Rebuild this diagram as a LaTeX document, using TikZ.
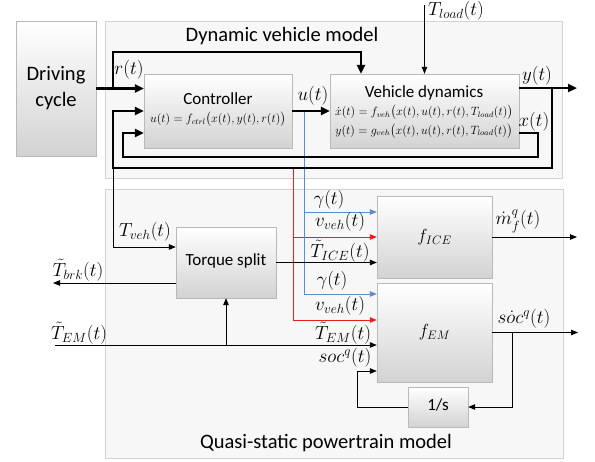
\RequirePackage{fix-cm}
\documentclass[tikz,border=0pt]{standalone}
\usepackage{fontspec}
\setmainfont{Carlito}
\usepackage{amsmath, amssymb}
\usetikzlibrary{arrows.meta}
\usetikzlibrary{calc}

\definecolor{sigblue}{RGB}{91,140,208}
\definecolor{sigred}{RGB}{235,30,30}

\newcommand{\bigtxt}{\fontsize{20.5}{24}\selectfont}
\newcommand{\midtxt}{\fontsize{17}{20}\selectfont}
\newcommand{\lbltxt}{\fontsize{19}{22}\selectfont}
\newcommand{\fntxt}{\fontsize{17.5}{20}\selectfont}
\newcommand{\eqtxt}{\fontsize{12}{14}\selectfont}

\begin{document}
\begin{tikzpicture}[x=1pt, y=-1pt,
        frame_style/.style={draw=gray!35, fill=gray!6, line width=0.8pt},
        block_style/.style={draw=gray!55, top color=white, bottom color=gray!35, inner sep=0pt, align=center},
        text_style/.style={inner sep=0pt},
        label_style/.style={inner sep=0pt, font=\lbltxt},
        bus_style/.style={draw=black, line width=2.6pt},
        bus_edge_style/.style={bus_style, -{Triangle[length=9pt,width=8pt]}},
        edge_style/.style={draw=black, line width=0.8pt, -{Triangle[length=7pt,width=5.5pt]}},
        blue_edge_style/.style={edge_style, draw=sigblue},
        red_edge_style/.style={edge_style, draw=sigred}]

        \useasboundingbox (0,0) rectangle (595,461);

        % outer frames
        \draw [frame_style] (105,21) rectangle (562,178);
        \draw [frame_style] (105,189) rectangle (563,458);
        \node [font=\bigtxt] (t_dyn) at (282,36) {Dynamic vehicle model};
        \node [font=\bigtxt] (t_qs) at (326,443) {Quasi-static powertrain model};

        % blocks
        \node [block_style, minimum width=80pt, minimum height=135pt, font=\bigtxt] (cycle) at (56,88.5) {Driving\\[2pt]cycle};
        \node [block_style, minimum width=148pt, minimum height=74pt] (ctrl) at (218,111) {};
        \node [block_style, minimum width=189pt, minimum height=74pt] (veh) at (424.5,111) {};
        \node [block_style, minimum width=100pt, minimum height=71pt, font=\midtxt] (split) at (226,262.5) {\raisebox{6pt}{Torque split}};
        \node [block_style, minimum width=115pt, minimum height=82pt, font=\fntxt] (ice) at (434.5,237) {$f_{ICE}$};
        \node [block_style, minimum width=115pt, minimum height=99pt, font=\fntxt] (em) at (434.5,332.5) {$f_{EM}$};
        \node [block_style, minimum width=60pt, minimum height=40pt, font=\midtxt] (integ) at (438,407) {\raisebox{5pt}{1/s}};

        \node [text_style, font=\midtxt] (ctrl_name) at (218,99) {Controller};
        \node [text_style, font=\eqtxt] (ctrl_eq) at (218,119.5) {$u(t)=f_{ctrl}\big(x(t),y(t),r(t)\big)$};
        \node [text_style, font=\midtxt] (veh_name) at (424,93) {Vehicle dynamics};
        \node [text_style, font=\eqtxt] (veh_eq1) at (424,112.5) {$\dot x(t)=f_{veh}\big(x(t),u(t),r(t),T_{load}(t)\big)$};
        \node [text_style, font=\eqtxt] (veh_eq2) at (424,131) {$y(t)=g_{veh}\big(x(t),u(t),r(t),T_{load}(t)\big)$};

        % branch points
        \coordinate (rbr) at (113,88.5);
        \coordinate (rtop) at (361,52);
        \coordinate (ybr) at (552,88);
        \coordinate (yout) at (577,88);
        \coordinate (fb) at (113,168);
        \coordinate (xr) at (538,157);
        \coordinate (xl) at (123,157);
        \coordinate (ubr) at (304,111);
        \coordinate (vbr) at (293,168);
        \coordinate (tload) at (424.5,5);
        \coordinate (temin) at (55,345);
        \coordinate (brkout) at (53,283);
        \coordinate (sbr) at (512,332.5);
        \coordinate (socl) at (357,371);

        % signals into the powertrain
        \draw [red_edge_style] (vbr) |- (ice.west |- 0,237);
        \draw [red_edge_style] (vbr) |- (em.west |- 0,320);
        \draw [blue_edge_style] (ubr) |- (ice.west |- 0,212);
        \draw [blue_edge_style] (ubr) |- (em.west |- 0,294);

        % vehicle loop
        \draw [bus_edge_style] (cycle.east) -- (ctrl.west |- cycle.east);
        \draw [bus_edge_style] (rbr) |- (rtop) -- (rtop |- veh.north);
        \draw [edge_style] (tload) -- (veh.north);
        \draw [bus_edge_style] (ctrl.east) -- (veh.west);
        \draw [bus_edge_style] (veh.east |- yout) -- (yout);
        \draw [bus_edge_style] (ybr) |- (fb) |- (ctrl.west);
        \draw [bus_edge_style] (veh.east |- 0,133) -| (xr) -- (xl) |- (ctrl.west |- 0,133);

        % powertrain
        \draw [edge_style] (fb) |- (split.west |- 0,247);
        \draw [edge_style] (split.east) -- (ice.west |- split.east);
        \draw [edge_style] (split.west |- brkout) -- (brkout);
        \draw [edge_style] (temin) -- (em.west |- temin);
        \draw [edge_style] (split.south |- temin) -- (split.south);
        \draw [edge_style] (ice.east) -- (577,237);
        \draw [edge_style] (em.east) -- (578,332.5);
        \draw [edge_style] (sbr) |- (integ.east);
        \draw [edge_style] (integ.west) -| (socl) -- (em.west |- socl);

        % signal names
        \node [label_style] (l_r) at (129,70) {$r(t)$};
        \node [label_style] (l_tload) at (456,11) {$T_{load}(t)$};
        \node [label_style] (l_u) at (313,96) {$u(t)$};
        \node [label_style] (l_y) at (537,76) {$y(t)$};
        \node [label_style] (l_x) at (534,122) {$x(t)$};
        \node [label_style] (l_tveh) at (145,232) {$T_{veh}(t)$};
        \node [label_style] (l_brk) at (78,270) {$\tilde T_{brk}(t)$};
        \node [label_style] (l_temin) at (79,333) {$\tilde T_{EM}(t)$};
        \node [label_style] (l_g1) at (329,200) {$\gamma(t)$};
        \node [label_style] (l_v1) at (340,222) {$v_{veh}(t)$};
        \node [label_style] (l_tice) at (340,251) {$\tilde T_{ICE}(t)$};
        \node [label_style] (l_g2) at (332,281) {$\gamma(t)$};
        \node [label_style] (l_v2) at (340,306) {$v_{veh}(t)$};
        \node [label_style] (l_tem) at (343,333.5) {$\tilde T_{EM}(t)$};
        \node [label_style] (l_soc) at (345,358) {$soc^q(t)$};
        \node [label_style] (l_mf) at (518,221) {$\dot m_f^q(t)$};
        \node [label_style] (l_sdot) at (524,319) {$s\dot oc^q(t)$};
\end{tikzpicture}
\end{document}
